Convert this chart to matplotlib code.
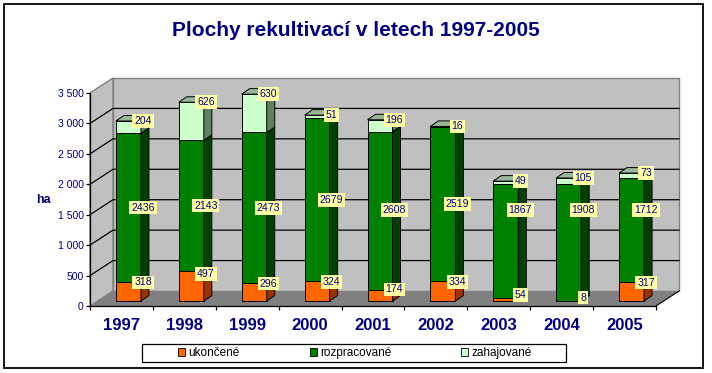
import matplotlib
matplotlib.use("Agg")
import matplotlib.pyplot as plt
from matplotlib.patches import Polygon, Rectangle, Patch
from matplotlib.ticker import FuncFormatter, MultipleLocator
import numpy as np

plt.rcParams['font.family'] = ['Liberation Sans', 'DejaVu Sans']

years = ["1997", "1998", "1999", "2000", "2001", "2002", "2003", "2004", "2005"]
ukoncene = [318, 497, 296, 324, 174, 334, 54, 8, 317]
rozpracovane = [2436, 2143, 2473, 2679, 2608, 2519, 1867, 1908, 1712]
zahajovane = [204, 626, 630, 51, 196, 16, 49, 105, 73]
series_names = ["ukončené", "rozpracované", "zahajované"]

NAVY = "#000080"
front_cols = ["#FF6600", "#008000", "#CCFFCC"]
side_cols = ["#993300", "#004000", "#608060"]
top_col = "#99B899"
label_bg = "#FFFFA6"

W, H = 712, 373
fig = plt.figure(figsize=(W / 100, H / 100), dpi=100)

# axes box in pixels (front plane)
ax_l, ax_r, ax_b, ax_t = 90, 656, 306, 93
ax = fig.add_axes([ax_l / W, 1 - ax_b / H, (ax_r - ax_l) / W, (ax_b - ax_t) / H])
ymax = 3500
n = len(years)
x0, x1 = -0.5, n - 0.5
ax.set_xlim(x0, x1)
ax.set_ylim(0, ymax)
ax.patch.set_visible(False)

# pixel -> data unit helpers
px_x = (x1 - x0) / (ax_r - ax_l)
px_y = ymax / (ax_b - ax_t)

# 3d depth of the whole box and of the bars
Dx, Dy = 23 * px_x, 15 * px_y
sx, sy = 7 * px_x, 5 * px_y
bx, by = 8 * px_x, 5.5 * px_y
w = 25 * px_x

# walls and floor
wall = "#C0C0C0"
ax.add_patch(Polygon([(x0 + Dx, Dy), (x1 + Dx, Dy), (x1 + Dx, ymax + Dy), (x0 + Dx, ymax + Dy)],
                     fc=wall, ec="#808080", lw=1, clip_on=False, zorder=0))
ax.add_patch(Polygon([(x0, 0), (x0 + Dx, Dy), (x0 + Dx, ymax + Dy), (x0, ymax)],
                     fc=wall, ec="#808080", lw=1, clip_on=False, zorder=0))
ax.add_patch(Polygon([(x0, 0), (x1, 0), (x1 + Dx, Dy), (x0 + Dx, Dy)],
                     fc="#808080", ec="none", clip_on=False, zorder=0.5))
ax.plot([x1, x1 + Dx], [0, Dy], color="black", lw=0.8, clip_on=False, zorder=0.6)

for g in range(500, ymax, 500):
    ax.plot([x0, x0 + Dx, x1 + Dx], [g, g + Dy, g + Dy], color="black", lw=0.9,
            clip_on=False, zorder=0.4)

# bars
stack = np.array([ukoncene, rozpracovane, zahajovane], dtype=float)
bottoms = np.vstack([np.zeros(n), np.cumsum(stack, axis=0)[:-1]])
xs = np.arange(n) + sx

for s in range(3):
    vals, bots = stack[s], bottoms[s] + sy
    ax.bar(xs, vals, width=w, bottom=bots, color=front_cols[s], edgecolor="black",
           lw=0.7, zorder=2)
    for i in range(n):
        xr = xs[i] + w / 2
        ax.add_patch(Polygon([(xr, bots[i]), (xr + bx, bots[i] + by),
                              (xr + bx, bots[i] + vals[i] + by), (xr, bots[i] + vals[i])],
                             fc=side_cols[s], ec="black", lw=0.7, zorder=2, clip_on=False))

tops = stack.sum(axis=0) + sy
for i in range(n):
    xl, xr = xs[i] - w / 2, xs[i] + w / 2
    ax.add_patch(Polygon([(xl, tops[i]), (xl + bx, tops[i] + by), (xr + bx, tops[i] + by),
                          (xr, tops[i])], fc=top_col, ec="black", lw=0.7, zorder=2,
                         clip_on=False))

# value labels
def label(x, y, v):
    ax.text(x, y, str(v), ha="center", va="center", fontsize=7.6, color=NAVY, zorder=5,
            bbox=dict(boxstyle="square,pad=0.18", fc=label_bg, ec="none"), clip_on=False)

for i in range(n):
    lx = xs[i] + w / 2 + 2 * px_x
    label(lx, sy + 0.8 * ukoncene[i] + 50, ukoncene[i])
    mid = bottoms[1][i] + rozpracovane[i] / 2
    label(lx, sy + max(mid, 1500), rozpracovane[i])
    label(lx, tops[i], zahajovane[i])

# axes styling
for sp in ["top", "right"]:
    ax.spines[sp].set_visible(False)
ax.spines["left"].set_linewidth(0.9)
ax.spines["bottom"].set_linewidth(0.9)
ax.spines["left"].set_zorder(1)
ax.yaxis.set_major_locator(MultipleLocator(500))
ax.yaxis.set_major_formatter(FuncFormatter(lambda v, p: f"{int(v):,}".replace(",", " ")))
ax.tick_params(axis="y", direction="out", length=3, width=0.9, pad=1.5,
               labelsize=7.5, labelcolor=NAVY)
ax.set_xticks(np.arange(n))
ax.set_xticklabels(years, fontsize=12, fontweight="bold", color=NAVY)
ax.set_xticks(np.arange(n + 1) - 0.5, minor=True)
ax.tick_params(axis="x", which="major", length=0, pad=9)
ax.tick_params(axis="x", which="minor", direction="out", length=3, width=0.9)

fig.text(43 / W, 1 - 200 / H, "ha", ha="center", va="center", fontsize=9,
         fontweight="bold", color=NAVY)
fig.text(356 / W, 1 - 31 / H, "Plochy rekultivací v letech 1997-2005", ha="center",
         va="center", fontsize=15, fontweight="bold", color=NAVY)

# legend
handles = [Patch(fc=c, ec="black", lw=0.6) for c in front_cols]
fig.legend(handles, series_names, ncol=3, loc="center", frameon=False,
           bbox_to_anchor=(355 / W, 1 - 353 / H), fontsize=8.5, handlelength=0.6,
           handleheight=0.6, handletextpad=0.3, columnspacing=5.9)
fig.patches.append(Rectangle((142 / W, 1 - 362 / H), 424 / W, 18 / H, fill=False,
                             ec="black", lw=0.9, transform=fig.transFigure))
fig.patches.append(Rectangle((4 / W, 1 - 368 / H), 699 / W, 364 / H, fill=False,
                             ec="black", lw=1.3, transform=fig.transFigure))

fig.savefig("out.png", dpi=100)
